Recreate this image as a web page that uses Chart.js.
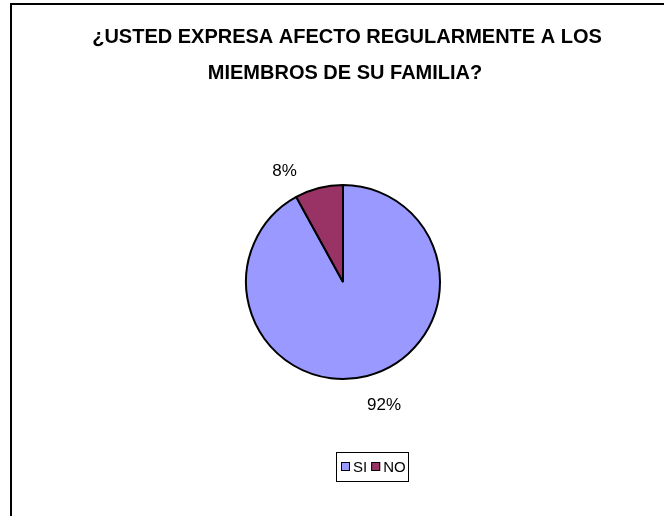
<!DOCTYPE html>
<html><head><meta charset="utf-8">
<script src="https://cdn.jsdelivr.net/npm/chart.js@4"></script>
<style>html,body{margin:0;padding:0;background:#fff}#wrap{width:664px;height:516px;position:relative}</style>
</head><body><div id="wrap"><canvas id="c" width="664" height="516"></canvas></div>
<script>
const titleLines = ['¿USTED EXPRESA AFECTO REGULARMENTE A LOS', 'MIEMBROS DE SU FAMILIA?'];
const categories = ['SI', 'NO'];
const values = [92, 8];
const percentLabels = ['92%', '8%'];
const colors = ['#9999FF', '#993366'];

const FONT = '"Liberation Sans", Arial, sans-serif';

const decor = {
  id: 'decor',
  beforeDraw(chart) {
    const ctx = chart.ctx;
    ctx.save();
    ctx.fillStyle = '#fff';
    ctx.fillRect(0, 0, chart.width, chart.height);
    ctx.restore();
  },
  afterDraw(chart) {
    const ctx = chart.ctx;
    ctx.save();
    // frame
    ctx.strokeStyle = '#000';
    ctx.lineWidth = 2;
    ctx.beginPath();
    ctx.moveTo(11, 520);
    ctx.lineTo(11, 4);
    ctx.lineTo(670, 4);
    ctx.stroke();
    // title
    ctx.fillStyle = '#000';
    ctx.font = 'bold 20px ' + FONT;
    ctx.textAlign = 'center';
    ctx.textBaseline = 'middle';
    ctx.fillText(titleLines[0], 347, 37);
    ctx.fillText(titleLines[1], 345, 73);
    // percent labels
    const meta = chart.getDatasetMeta(0);
    const nudges = [[9, -2], [-28, 8]];
    ctx.font = '17px ' + FONT;
    meta.data.forEach((arc, i) => {
      const p = arc.getProps(['x', 'y', 'startAngle', 'endAngle', 'outerRadius'], true);
      const mid = (p.startAngle + p.endAngle) / 2;
      const d = p.outerRadius * (i === 0 ? 1.33 : 1.26);
      const x = p.x + Math.cos(mid) * d + nudges[i][0];
      const y = p.y + Math.sin(mid) * d + nudges[i][1];
      ctx.fillText(percentLabels[i], x, y);
    });
    // legend
    const lx = 336, ly = 452, lw = 72, lh = 29;
    ctx.lineWidth = 1;
    ctx.strokeStyle = '#000';
    ctx.strokeRect(lx + 0.5, ly + 0.5, lw, lh);
    ctx.textAlign = 'left';
    ctx.font = '15px ' + FONT;
    let x = lx + 5;
    categories.forEach((c, i) => {
      ctx.fillStyle = colors[i];
      ctx.fillRect(x, ly + 10, 9, 9);
      ctx.strokeStyle = '#000';
      ctx.strokeRect(x + 0.5, ly + 10.5, 8, 8);
      ctx.fillStyle = '#000';
      ctx.fillText(c, x + 12, ly + 15.5);
      x += 12 + ctx.measureText(c).width + 4;
    });
    ctx.restore();
  }
};

new Chart(document.getElementById('c'), {
  type: 'pie',
  data: {
    labels: categories,
    datasets: [{
      data: values,
      backgroundColor: colors,
      borderColor: '#000',
      borderWidth: 2
    }]
  },
  options: {
    responsive: false,
    animation: false,
    events: [],
    layout: { padding: { left: 245, right: 223, top: 184, bottom: 136 } },
    plugins: {
      legend: { display: false },
      title: { display: false },
      tooltip: { enabled: false }
    }
  },
  plugins: [decor]
});
</script>
</body></html>
